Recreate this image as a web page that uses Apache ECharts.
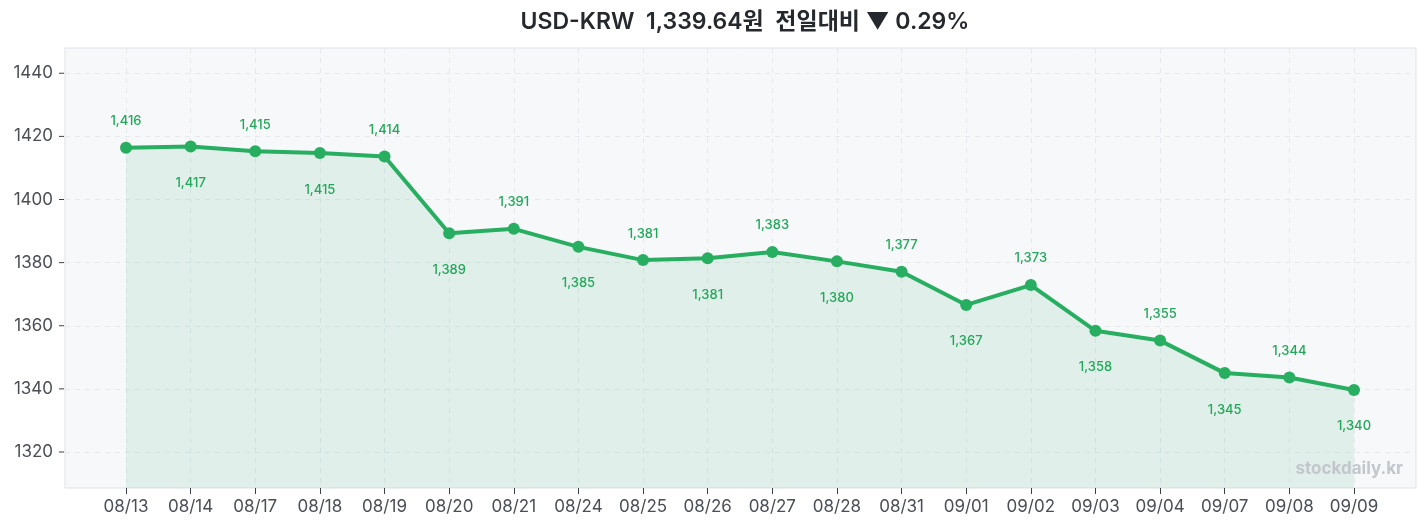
<!DOCTYPE html>
<html>
<head>
<meta charset="utf-8">
<script src="https://cdn.jsdelivr.net/npm/echarts@6/dist/echarts.min.js"></script>
<style>
html,body{margin:0;padding:0;background:#fff;}
#c{width:1427px;height:529px;}
</style>
</head>
<body>
<div id="c"></div>
<script>
const categories = ['08/13','08/14','08/17','08/18','08/19','08/20','08/21','08/24','08/25','08/26','08/27','08/28','08/31','09/01','09/02','09/03','09/04','09/07','09/08','09/09'];
const rates = [1416.4,1416.8,1415.3,1414.7,1413.6,1389.3,1390.7,1385.0,1380.8,1381.4,1383.4,1380.4,1377.1,1366.6,1372.9,1358.4,1355.3,1345.0,1343.6,1339.64];
const titleText = 'USD-KRW  1,339.64원  전일대비 ▼ 0.29%';
const yTicks = [1320,1340,1360,1380,1400,1420,1440];
const watermark = 'stockdaily.kr';

const FONT = 'Inter, "Noto Sans CJK KR", sans-serif';
const yMin = 1308.6, yMax = 1448;
const green = '#27ae60';

const chart = echarts.init(document.getElementById('c'));
chart.setOption({
  animation: false,
  backgroundColor: '#ffffff',
  title: {
    text: titleText,
    left: 740, textAlign: 'center', top: 6,
    textStyle: { fontFamily: FONT, fontSize: 23, fontWeight: 600, color: '#25282d' }
  },
  grid: [
    { left: 65, right: 11, top: 48, bottom: 41, show: true, backgroundColor: '#f7f8fa', borderColor: '#dfe2e7', borderWidth: 1, z: 0 },
    { left: 126, right: 73, top: 48, bottom: 41 }
  ],
  xAxis: [
    { gridIndex: 0, type: 'value', show: false, min: 0, max: 1 },
    { gridIndex: 1, type: 'category', data: categories, boundaryGap: false,
      axisLine: { show: false },
      axisTick: { show: true, length: 6, lineStyle: { color: '#3c4047' } },
      axisLabel: { fontFamily: FONT, fontSize: 17, color: '#4a4e56', margin: 10 },
      splitLine: { show: true, lineStyle: { color: '#e6e8ec', type: [5, 5] } }
    }
  ],
  yAxis: [
    { gridIndex: 0, type: 'value', min: yMin, max: yMax,
      axisLine: { show: false }, axisTick: { show: false }, axisLabel: { show: false }, splitLine: { show: false } },
    { gridIndex: 1, type: 'value', min: yMin, max: yMax,
      axisLine: { show: false }, axisTick: { show: false }, axisLabel: { show: false }, splitLine: { show: false } }
  ],
  series: [
    { type: 'line', xAxisIndex: 0, yAxisIndex: 0, data: [], symbol: 'none',
      markLine: {
        silent: true, symbol: 'none', label: { show: false },
        lineStyle: { color: '#e6e8ec', type: [5, 5], width: 1 },
        data: yTicks.map(v => ({ yAxis: v }))
      }
    },
    { type: 'line', xAxisIndex: 1, yAxisIndex: 1,
      symbol: 'circle', symbolSize: 12,
      lineStyle: { color: green, width: 4 },
      itemStyle: { color: green },
      areaStyle: { color: 'rgba(39,174,96,0.15)' },
      z: 5,
      data: rates.map((v, i) => ({
        value: v,
        label: {
          show: true,
          position: i % 2 === 0 ? 'top' : 'bottom',
          distance: i % 2 === 0 ? 14 : 24,
          formatter: () => Math.round(v).toLocaleString('en-US'),
          fontFamily: FONT, fontSize: 13, fontWeight: 500, color: '#22a85a'
        }
      }))
    }
  ]
});

const g = [{
  type: 'text', right: 24, top: 460, z: 10,
  style: { text: watermark, fill: '#c3c7cd', font: 'bold 17px ' + FONT }
}];
yTicks.forEach(v => {
  const p = chart.convertToPixel({ gridIndex: 0 }, [0, v]);
  g.push({ type: 'text', x: 53, y: p[1], style: { text: String(v), fill: '#4a4e56', font: '17px ' + FONT, textAlign: 'right', textVerticalAlign: 'middle' } });
  g.push({ type: 'line', shape: { x1: 59, y1: p[1], x2: 64, y2: p[1] }, style: { stroke: '#3c4047', lineWidth: 1 } });
});
chart.setOption({ graphic: g });
</script>
</body>
</html>
